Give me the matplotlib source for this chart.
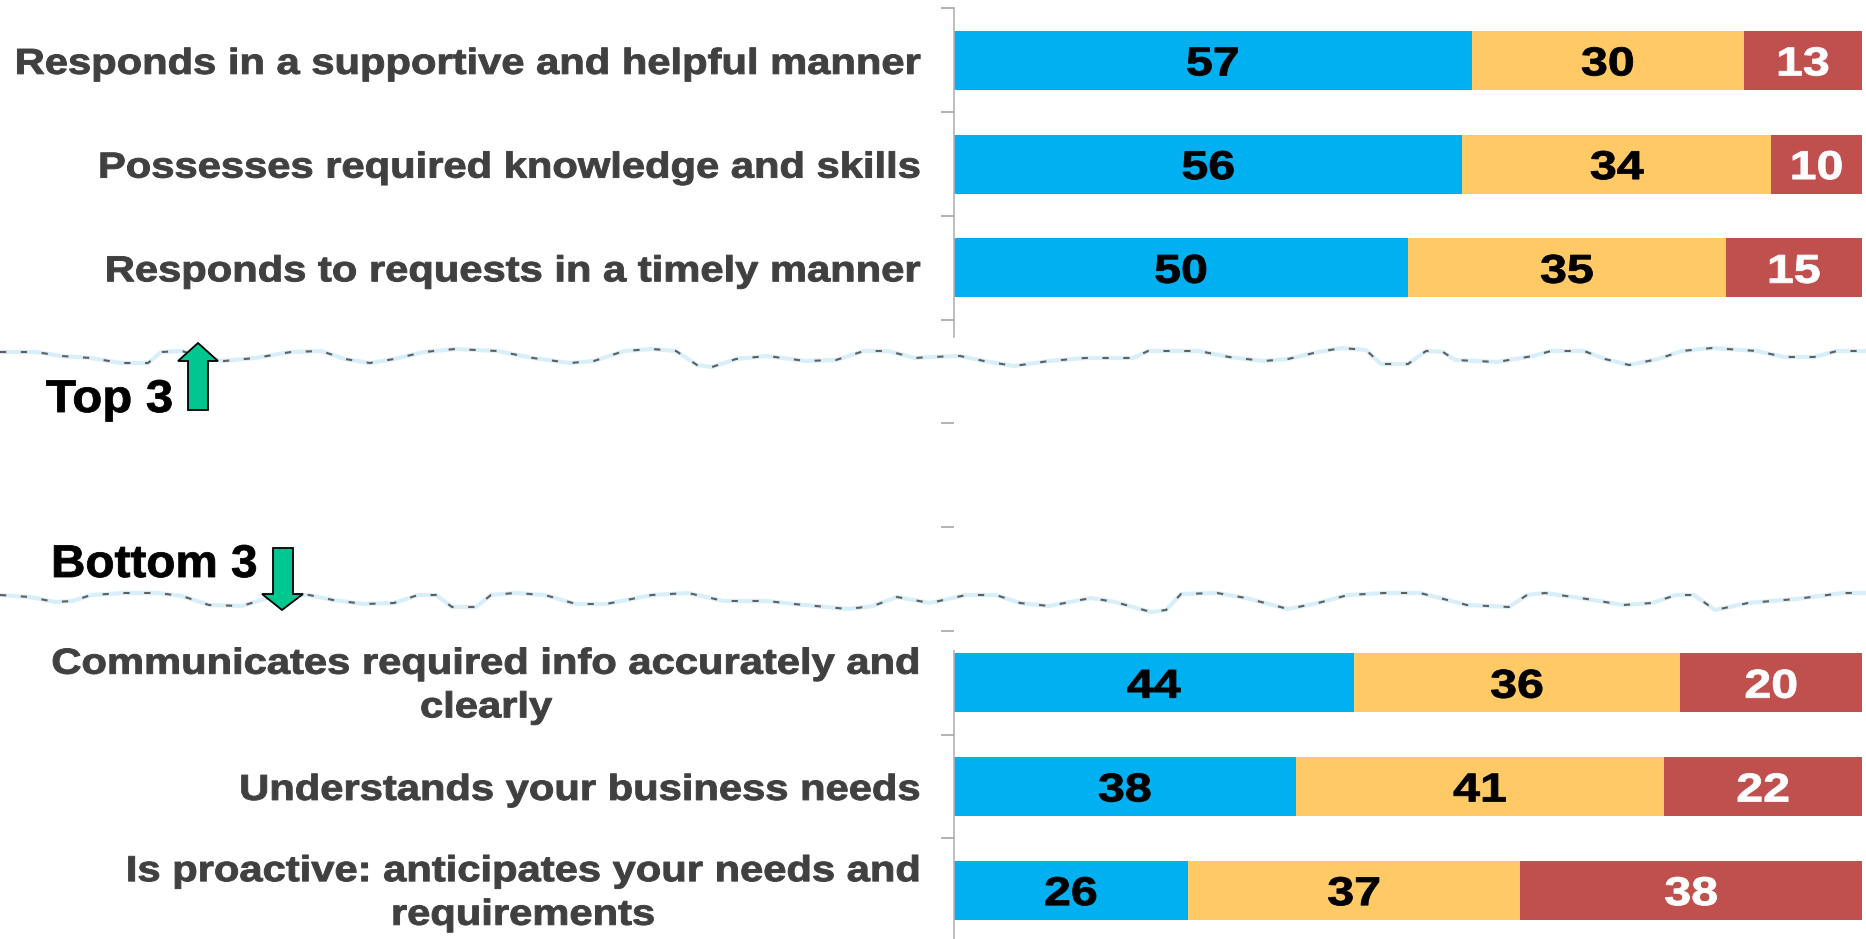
import matplotlib
matplotlib.use('Agg')
import matplotlib.pyplot as plt
import numpy as np
from matplotlib.patches import Polygon
from matplotlib.patheffects import AbstractPathEffect
from matplotlib.transforms import Affine2D

plt.rcParams['font.family'] = ['Liberation Sans', 'DejaVu Sans']

categories = [
    'Responds in a supportive and helpful manner',
    'Possesses required knowledge and skills',
    'Responds to requests in a timely manner',
    '', '', '',
    'Communicates required info accurately and\nclearly',
    'Understands your business needs',
    'Is proactive: anticipates your needs and\nrequirements',
]
favourable = [57, 56, 50, 0, 0, 0, 44, 38, 26]
neutral = [30, 34, 35, 0, 0, 0, 36, 41, 37]
unfavourable = [13, 10, 15, 0, 0, 0, 20, 22, 38]

# torn-paper lines between the two groups, figure pixels
tear_top_x = [0, 36, 61, 91, 121, 148, 161, 182, 200, 224, 255, 291, 321, 345, 370, 394, 424, 455, 497,
              533, 570, 594, 624, 652, 676, 697, 712, 736, 767, 806, 836, 864, 888, 915, 930, 960, 984,
              1014, 1049, 1085, 1133, 1148, 1199, 1229, 1264, 1288, 1318, 1342, 1366, 1381, 1408, 1426,
              1443, 1455, 1497, 1533, 1551, 1584, 1605, 1629, 1658, 1682, 1712, 1757, 1784, 1814, 1837,
              1859, 1866]
tear_top_y = [352, 352, 356, 358, 363, 363, 352, 351, 357, 361, 358, 352, 351, 359, 363, 359, 352, 349,
              351, 358, 363, 361, 351, 349, 351, 365, 367, 359, 356, 361, 360, 351, 351, 358, 357, 356,
              361, 366, 361, 358, 358, 351, 351, 357, 361, 359, 352, 348, 350, 364, 364, 351, 352, 360,
              362, 356, 351, 351, 359, 365, 359, 351, 348, 351, 357, 357, 351, 351, 351]
tear_bot_x = [0, 30, 55, 73, 91, 124, 158, 182, 209, 242, 261, 279, 309, 333, 364, 394, 418, 436, 452,
              476, 491, 515, 545, 576, 606, 652, 688, 724, 767, 794, 848, 873, 897, 930, 966, 996, 1020,
              1049, 1091, 1115, 1151, 1166, 1181, 1217, 1246, 1288, 1318, 1348, 1384, 1420, 1467, 1509,
              1527, 1545, 1587, 1623, 1652, 1676, 1694, 1715, 1748, 1796, 1843, 1859, 1866]
tear_bot_y = [595, 597, 602, 601, 595, 593, 593, 596, 605, 606, 600, 595, 595, 600, 604, 603, 595, 595,
              607, 607, 595, 593, 595, 604, 604, 595, 593, 601, 601, 604, 609, 606, 597, 603, 595, 595,
              603, 606, 598, 602, 612, 610, 594, 593, 598, 609, 603, 595, 593, 593, 605, 607, 595, 593,
              599, 605, 603, 595, 595, 610, 603, 599, 593, 593, 593]

top_arrow = [(178, 361), (198, 343), (218, 361), (208, 361), (208, 410), (188, 410), (188, 361)]
bottom_arrow = [(273, 548), (293, 548), (293, 594), (303, 594), (282, 610), (262, 594), (273, 594)]


class WideText(AbstractPathEffect):
    """Widens glyphs about a fixed x (display pixels), with a slight extra stroke."""

    def __init__(self, sx, cx=None, stroke=0.0, dy=0):
        super().__init__()
        self.sx, self.cx, self.stroke, self.dy = sx, cx, stroke, dy

    def draw_path(self, renderer, gc, tpath, affine, rgbFace=None):
        cx = self.cx
        if cx is None:
            # centred numbers: widen about the middle of this glyph run
            x0, x1 = tpath.transformed(affine).get_extents().intervalx
            cx = (x0 + x1) / 2
        tr = affine + Affine2D().translate(-cx, self.dy).scale(self.sx, 1).translate(cx, 0)
        gc0 = renderer.new_gc()
        gc0.copy_properties(gc)
        if self.stroke:
            gc0.set_linewidth(self.stroke)
            gc0.set_foreground(rgbFace)
        renderer.draw_path(gc0, tpath, tr, rgbFace)
        gc0.restore()


fig = plt.figure(figsize=(18.66, 9.39), dpi=100)
W, H = 1866, 939
ax = fig.add_axes([954 / W, 1 - 942 / H, (1862 - 954) / W, (942 - 8.5) / H])

y = np.arange(len(categories))
colors = ['#00B0F0', '#FFC966', '#C0504D']
text_colors = ['black', 'black', 'white']
series = [favourable, neutral, unfavourable]
totals = np.array(favourable) + np.array(neutral) + np.array(unfavourable)

# shares are stacked against each row's own total, so every bar ends flush right
left = np.zeros(len(y))
for vals, c, tc in zip(series, colors, text_colors):
    vals = np.array(vals, dtype=float)
    share = np.divide(vals, totals, out=np.zeros(len(y)), where=totals > 0)
    ax.barh(y, share, left=left, height=0.57, color=c, linewidth=0)
    for yi, v, s, l in zip(y, vals, share, left):
        if v > 0:
            t = ax.text(l + s / 2, yi, f'{int(v)}', ha='center', va='center_baseline',
                        color=tc, fontsize=29, fontweight='bold')
            t.set_path_effects([WideText(1.2, stroke=0.6)])
    left = left + share

ax.set_xlim(0, 1)
ax.set_ylim(len(y) - 0.5, -0.5)
ax.xaxis.set_visible(False)
for s in ax.spines.values():
    s.set_visible(False)

ax.set_yticks(y)
ax.set_yticklabels(categories, fontsize=26, fontweight='bold', color='#404040',
                   multialignment='center', linespacing=1.32)
for lab in ax.get_yticklabels():
    # two-line labels sit a little above their row centre
    lift = 5 if '\n' in lab.get_text() else 0
    lab.set_path_effects([WideText(1.155, cx=920, stroke=0.7, dy=lift)])
ax.tick_params(axis='y', which='major', length=0, pad=24)
ax.set_yticks(np.arange(-0.5, len(y) - 0.5), minor=True)
ax.tick_params(axis='y', which='minor', length=9.5, width=1.2, color='#a6a6a6')

# axis line is interrupted by the tear
ax.plot([0, 0], [-0.5, 2.67], color='#b3b3b3', lw=1.2, clip_on=False, zorder=1)
ax.plot([0, 0], [5.69, 8.5], color='#b3b3b3', lw=1.2, clip_on=False, zorder=1)

# overlay in pixel coordinates for the tear lines and the group markers
ov = fig.add_axes([0, 0, 1, 1])
ov.set_xlim(0, W)
ov.set_ylim(H, 0)
ov.axis('off')
for tx, ty in [(tear_top_x, tear_top_y), (tear_bot_x, tear_bot_y)]:
    ov.plot(tx, ty, color='#d8effa', lw=3, solid_joinstyle='round')
    ov.plot(tx, ty, color='#5f5f5f', lw=1.5, ls=(0, (3, 7)))

for pts in [top_arrow, bottom_arrow]:
    ov.add_patch(Polygon(pts, closed=True, facecolor='#00C78F', edgecolor='black', lw=1.3, zorder=5))

top_label = ov.text(46, 412, 'Top 3', fontsize=33, fontweight='bold', color='black', va='baseline')
top_label.set_path_effects([WideText(1.07, cx=46, stroke=0.6)])
bottom_label = ov.text(51, 577, 'Bottom 3', fontsize=33, fontweight='bold', color='black', va='baseline')
bottom_label.set_path_effects([WideText(1.04, cx=51, stroke=0.6)])

fig.savefig('out.png', dpi=100)
